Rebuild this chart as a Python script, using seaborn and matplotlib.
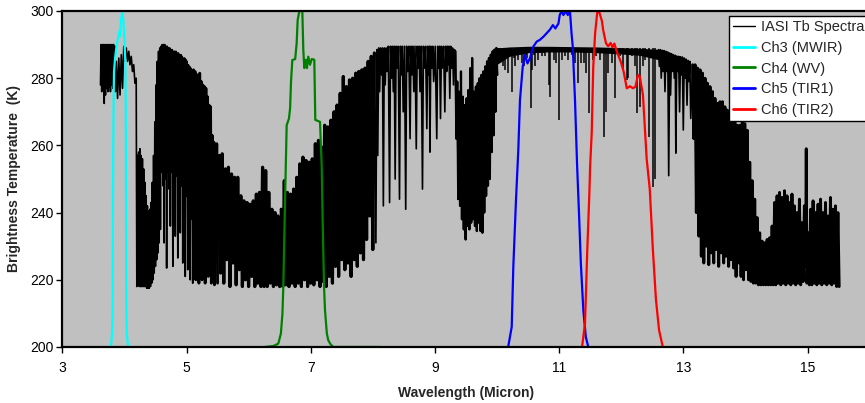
import matplotlib
matplotlib.use("Agg")
import matplotlib.pyplot as plt
from matplotlib.lines import Line2D
import numpy as np
import seaborn as sns

# ---------------------------------------------------------------
# IASI brightness-temperature spectrum (wavelength in micron, Tb in K)
# stored band by band as peak / trough samples
# ---------------------------------------------------------------
sw_wl = [3.615, 3.625, 3.635, 3.645, 3.655, 3.665, 3.675, 3.685, 3.695, 3.705,
         3.715, 3.725, 3.735, 3.745, 3.755, 3.765, 3.775, 3.785, 3.795, 3.805,
         3.815, 3.825, 3.835, 3.845, 3.855, 3.87, 3.89, 3.91, 3.93, 3.95,
         3.97, 3.99, 4.01, 4.03, 4.05, 4.07, 4.09, 4.11, 4.13, 4.15, 4.17, 4.19]
sw_tb = [278, 290, 276, 290, 278, 290, 272.5, 290, 275, 290,
         277, 290, 276, 290, 277.5, 290, 276, 290, 278, 290,
         277, 290, 279, 289.5, 276, 285, 274, 286, 275, 287,
         277, 289.5, 285, 289, 285, 288, 284, 286.5, 282, 284, 278.5, 280]

co2_43_wl = [4.20, 4.21, 4.22, 4.23, 4.24, 4.25, 4.26, 4.27, 4.28, 4.29,
             4.30, 4.31, 4.32, 4.33, 4.34, 4.35, 4.36, 4.37, 4.38, 4.39,
             4.40, 4.41, 4.42, 4.43, 4.44, 4.45, 4.46, 4.47, 4.48, 4.49,
             4.50, 4.51, 4.52, 4.53, 4.54, 4.55, 4.56, 4.57]
co2_43_tb = [218, 257, 219, 258, 218, 259, 218, 257, 218, 256,
             218, 253, 218, 249, 218, 245, 217.5, 242, 217.5, 240.5,
             217.5, 241, 218, 243, 219, 249, 220, 257, 222, 267,
             224, 278, 226, 285, 228, 288, 231, 289]

h2o_a_wl = [4.58, 4.59, 4.60, 4.61, 4.62, 4.63, 4.64, 4.65, 4.66, 4.67,
            4.68, 4.69, 4.70, 4.71, 4.72, 4.73, 4.74, 4.75, 4.76, 4.77,
            4.78, 4.79, 4.80, 4.81, 4.82, 4.83, 4.84, 4.85, 4.86, 4.87,
            4.88, 4.89, 4.90, 4.91, 4.92, 4.93, 4.94, 4.95, 4.96, 4.97,
            4.98, 4.99, 5.00, 5.01, 5.02, 5.03, 5.04, 5.05, 5.06, 5.07,
            5.08, 5.09, 5.10]
h2o_a_tb = [235, 289.5, 252, 290, 248, 290, 231, 290, 250, 289.5,
            223.5, 289.5, 252, 289, 247, 289, 236, 288.5, 252, 288.5,
            224, 288, 250, 288, 233, 288, 251, 287.5, 226.5, 287.5,
            249, 287, 234, 287, 248, 286.5, 225, 286, 247, 286,
            221, 285.5, 245, 285, 223, 284, 240, 283.5, 220, 283,
            238, 282.5, 219]

h2o_b_wl = [5.113, 5.125, 5.138, 5.150, 5.163, 5.175, 5.188, 5.200, 5.213, 5.225,
            5.238, 5.250, 5.263, 5.275, 5.288, 5.300, 5.313, 5.325, 5.338, 5.350,
            5.363, 5.375, 5.388, 5.400, 5.413, 5.425, 5.438, 5.450, 5.463, 5.475,
            5.488, 5.500]
h2o_b_tb = [282.5, 240, 282, 220, 281, 245, 281, 219, 281.5, 238,
            279, 220, 278, 248, 277.5, 219, 277, 236, 274.5, 221,
            272, 242, 271.5, 219, 263, 234, 261, 218.5, 260.5, 240,
            260.5, 219]

h2o_c_wl = [5.525, 5.55, 5.575, 5.60, 5.625, 5.65, 5.675, 5.70, 5.725, 5.75,
            5.775, 5.80, 5.825, 5.85, 5.875, 5.90, 5.925, 5.95, 5.975, 6.00,
            6.025, 6.05, 6.075, 6.10, 6.125, 6.15, 6.175, 6.20, 6.225, 6.25,
            6.275, 6.30, 6.325, 6.35, 6.375, 6.40, 6.425, 6.45, 6.475, 6.50]
h2o_c_tb = [257, 222, 257.5, 219, 253, 226, 253.5, 218, 251.5, 225,
            250.5, 218.5, 250.5, 223, 245, 218, 243.5, 220, 243, 218,
            242.5, 221, 243.5, 218, 245.5, 219, 246, 218, 253.5, 218,
            252.5, 218, 246, 219, 241, 218, 240, 218.5, 239, 218]

h2o_d_wl = [6.525, 6.55, 6.575, 6.60, 6.625, 6.65, 6.675, 6.70, 6.725, 6.75,
            6.775, 6.80, 6.825, 6.85, 6.875, 6.90, 6.925, 6.95, 6.975, 7.00,
            7.025, 7.05, 7.075, 7.10, 7.125, 7.15, 7.175, 7.20, 7.225, 7.25,
            7.275, 7.30, 7.325, 7.35, 7.375, 7.40, 7.425, 7.45, 7.475, 7.50,
            7.525, 7.55, 7.575, 7.60, 7.625, 7.65, 7.675, 7.70, 7.725, 7.75,
            7.775, 7.80, 7.825, 7.85, 7.875, 7.90, 7.925, 7.95, 7.975, 8.00,
            8.025]
h2o_d_tb = [241, 218, 249.5, 218.5, 246, 218, 245.5, 219, 247, 218,
            250.5, 219, 254.5, 218, 256.5, 220, 255.5, 218, 255, 219,
            256, 218.5, 260.5, 220, 261.5, 218, 259.5, 219.5, 266, 218,
            265.5, 221, 267.5, 219, 270, 224, 272, 221, 275.5, 226,
            280.5, 223, 277.5, 225, 279.5, 221, 280, 226, 281.5, 224,
            282, 228, 282.5, 226, 283, 232, 285, 239, 286.5, 229,
            287.5]

lw_wl = [8.05, 8.065, 8.08, 8.095, 8.11, 8.125, 8.14, 8.155, 8.17, 8.185,
         8.20, 8.215, 8.23, 8.25, 8.27, 8.285, 8.30, 8.315, 8.33, 8.345,
         8.36, 8.375, 8.39, 8.41, 8.43, 8.445, 8.46, 8.475, 8.49, 8.51,
         8.53, 8.545, 8.56, 8.58, 8.60, 8.615, 8.63, 8.645, 8.66, 8.68,
         8.70, 8.715, 8.73, 8.745, 8.76, 8.78, 8.80, 8.815, 8.83, 8.85,
         8.87, 8.885, 8.90, 8.91, 8.92, 8.935, 8.95, 8.965, 8.98, 9.005,
         9.03, 9.045, 9.06, 9.075, 9.09, 9.105, 9.12, 9.14, 9.16, 9.175,
         9.19, 9.20, 9.21, 9.225, 9.24, 9.255, 9.27, 9.285, 9.30, 9.315]
lw_tb = [231, 288.5, 257, 289, 276, 289, 281, 289, 242, 289,
         278, 289, 282, 289.5, 243, 289.5, 280, 289.5, 276, 289.5,
         250, 289.5, 283, 289.5, 244, 289.5, 281, 289.5, 270, 289.5,
         241, 289.5, 282, 289.5, 262, 289.5, 281, 289.5, 276, 289.5,
         259, 289.5, 283, 289.5, 276, 289.5, 247, 289.5, 283, 289.5,
         265, 289.5, 281, 289.5, 258, 289.5, 283, 289.5, 279, 289.5,
         262, 289.5, 283, 289.5, 268, 289.5, 283, 289.5, 270, 289.5,
         282, 289.5, 284, 289.5, 274, 289.5, 283, 289, 278, 288.5]

o3_wl = [9.33, 9.345, 9.36, 9.375, 9.39, 9.405, 9.42, 9.435, 9.45, 9.465,
         9.48, 9.495, 9.51, 9.525, 9.54, 9.555, 9.57, 9.585, 9.60, 9.615,
         9.63, 9.645, 9.66, 9.675, 9.69, 9.705, 9.72, 9.735, 9.75, 9.765,
         9.78, 9.795, 9.81, 9.825, 9.84, 9.855, 9.87, 9.885, 9.90, 9.915,
         9.93, 9.945, 9.96, 9.975, 9.99, 10.005]
o3_tb = [288, 262, 279, 244, 276, 242, 282, 238, 274.5, 235,
         272, 232, 274, 236, 276.5, 235, 283, 237, 286, 238,
         276, 236, 277.5, 234.5, 278.5, 237, 280, 234.5, 281, 234,
         282, 240, 283.5, 245, 285, 248, 286, 250, 287, 258,
         288, 263, 288.5, 270, 289, 281]

# atmospheric window: continuum band and individual absorption lines
window_wl = [9.99, 10.2, 10.5, 10.8, 11.2, 11.6, 12.0, 12.3, 12.6]
window_top = [289.0, 289.3, 289.5, 289.5, 289.4, 289.3, 289.1, 288.9, 288.6]
window_base = [284.0, 286.5, 287.6, 287.8, 287.8, 287.6, 287.2, 286.8, 285.5]
window_line_top = 289.0
window_line_wl = [10.02, 10.05, 10.08, 10.10, 10.13, 10.16, 10.18, 10.21, 10.245, 10.27,
                  10.29, 10.32, 10.34, 10.37, 10.40, 10.43, 10.46, 10.48, 10.51, 10.54,
                  10.57, 10.59, 10.61, 10.64, 10.66, 10.69, 10.72, 10.75, 10.77, 10.80,
                  10.83, 10.85, 10.88, 10.91, 10.95, 10.98, 11.00, 11.02, 11.04, 11.07,
                  11.09, 11.12, 11.15, 11.18, 11.21, 11.26, 11.31, 11.36, 11.40, 11.43,
                  11.48, 11.55, 11.60, 11.66, 11.73, 11.75, 11.78, 11.85, 11.90, 11.98,
                  12.03, 12.09, 12.11, 12.17, 12.22, 12.26, 12.30, 12.35, 12.38, 12.45,
                  12.52, 12.55]
window_line_min = [286, 284.4, 287, 283.5, 282.5, 286, 281.5, 286.5, 276, 286,
                   283.5, 287, 285.5, 287, 284.5, 283.5, 287, 286, 287.5, 271,
                   282.4, 287, 283.5, 287.5, 285.5, 287.5, 286.5, 287.5, 286.5, 288,
                   278, 274.5, 288, 285.5, 284.4, 288, 267.6, 288, 285.5, 288,
                   286.5, 288.5, 285.5, 288, 287, 284.4, 278.5, 284.4, 284.5, 281.4,
                   269.6, 285.5, 286.5, 285.5, 262.6, 270, 281.5, 284.4, 274, 286.5,
                   282.5, 279.5, 280, 286.5, 283.5, 269.6, 271.5, 283.5, 285.5, 262.6,
                   247.7, 250]

comb_wl = [12.60, 12.615, 12.63, 12.645, 12.66, 12.675, 12.69, 12.705, 12.72, 12.735,
           12.75, 12.765, 12.78, 12.795, 12.81, 12.825, 12.84, 12.855, 12.87, 12.88,
           12.895, 12.91, 12.925, 12.94, 12.955, 12.97, 12.985, 13.00, 13.015, 13.03,
           13.045, 13.06, 13.075, 13.09, 13.105, 13.12]
comb_tb = [288.5, 283.5, 288.5, 280, 288.3, 282, 288.2, 276, 288, 282,
           287.8, 251, 287.5, 275, 287.3, 282, 287, 280, 286.8, 257.7,
           286.6, 282, 286.5, 270, 286.4, 281, 286.3, 264.6, 286, 280,
           285.7, 272, 285.3, 279, 285, 268]

co2_15_wl = [13.15, 13.17, 13.19, 13.21, 13.23, 13.25, 13.27, 13.29, 13.31, 13.33,
             13.35, 13.37, 13.39, 13.41, 13.43, 13.45, 13.47, 13.49, 13.51, 13.53,
             13.55, 13.57, 13.59, 13.61, 13.63, 13.65, 13.67, 13.69, 13.71, 13.73,
             13.75, 13.77, 13.79, 13.81, 13.83, 13.85, 13.87, 13.89, 13.91, 13.93,
             13.95, 13.97, 13.99, 14.01, 14.03, 14.05, 14.07, 14.09, 14.11, 14.13,
             14.15, 14.17, 14.19, 14.21, 14.23, 14.25, 14.27, 14.29, 14.31, 14.33,
             14.35, 14.37, 14.39, 14.41, 14.43, 14.45, 14.47, 14.49, 14.51, 14.53,
             14.55, 14.57, 14.59, 14.61, 14.63, 14.65, 14.67, 14.69, 14.71, 14.73,
             14.75, 14.77, 14.79, 14.81, 14.83, 14.85, 14.87, 14.89, 14.91, 14.93,
             14.95, 14.97, 14.98, 14.99, 15.01, 15.03, 15.05, 15.07, 15.09, 15.11,
             15.13, 15.15, 15.17, 15.19, 15.21, 15.23, 15.25, 15.27, 15.29, 15.31,
             15.33, 15.35, 15.37, 15.39, 15.41, 15.43, 15.45, 15.47, 15.49, 15.51]
co2_15_tb = [284, 262, 284, 240, 283, 233, 282.5, 227, 281.5, 225,
             280, 230, 278.5, 224.5, 277.5, 228, 276, 225, 274, 229,
             272.5, 224, 273, 228, 273, 225, 271.5, 227, 270.5, 224,
             269, 226, 268, 223.5, 267, 221, 266, 225, 266, 221,
             267, 220, 266.5, 223, 264.5, 220, 255, 219.5, 249.5, 219,
             244, 219, 238.5, 218.5, 234, 218.5, 231.5, 218.5, 231, 218.5,
             232, 218.5, 232.5, 218.5, 236, 218.5, 243, 218.5, 245, 219,
             246, 218.5, 244.5, 219, 246.5, 218.5, 245, 219, 243, 218.5,
             245.5, 219, 242, 218.5, 240, 219, 244, 218.5, 237, 219.5,
             242, 224, 259, 219, 234, 218.5, 241, 218.5, 243.5, 219,
             240, 218.5, 242.5, 219, 244, 218.5, 240, 219, 243, 218.5,
             239, 219, 244.5, 218.5, 241, 219, 242, 218, 240, 218]

# ---------------------------------------------------------------
# imager channel spectral response, scaled onto the Tb axis
# ---------------------------------------------------------------
ch3_wl = [3.784, 3.80, 3.81, 3.815, 3.82, 3.827, 3.833, 3.85, 3.876, 3.90,
          3.918, 3.93, 3.945, 3.966, 3.983, 3.999, 4.015, 4.022, 4.026, 4.030,
          4.037, 4.05, 4.063]
ch3_tb = [200, 204, 210, 240, 258, 275, 282, 286, 290, 292,
          294, 292.5, 297, 300, 297, 292, 285, 270, 240, 214,
          205, 201.5, 200]

ch4_wl = [6.26, 6.40, 6.478, 6.52, 6.545, 6.559, 6.585, 6.613, 6.65, 6.668,
          6.683, 6.704, 6.75, 6.774, 6.79, 6.817, 6.865, 6.881, 6.897, 6.924,
          6.94, 6.961, 6.989, 7.016, 7.058, 7.074, 7.15, 7.177, 7.195, 7.215,
          7.23, 7.26, 7.283, 7.32, 7.364, 7.50, 8.13]
ch4_tb = [200, 200.3, 201, 204, 210, 218, 242, 266, 268, 271,
          279, 285.4, 285.7, 290.4, 297.3, 300, 300, 288.4, 283, 285.5,
          283, 286.4, 284, 285.7, 285.5, 267.6, 267, 254, 235, 218,
          211, 204, 202, 200.8, 200, 200, 200]

ch5_wl = [10.18, 10.237, 10.263, 10.306, 10.343, 10.37, 10.414, 10.45, 10.49, 10.53,
          10.585, 10.64, 10.69, 10.75, 10.80, 10.85, 10.90, 10.94, 10.99, 11.01,
          11.04, 11.07, 11.11, 11.14, 11.175, 11.20, 11.22, 11.256, 11.29, 11.32,
          11.35, 11.39, 11.43, 11.47]
ch5_tb = [200, 206, 224, 243.8, 258.6, 273.5, 283.4, 286.9, 284.4, 285.9,
          289.4, 290.9, 291.4, 292.4, 293.4, 294.4, 295.8, 294.8, 296.3, 298.8,
          300, 298.8, 300, 298.8, 300, 293.4, 289.4, 273.5, 254, 240,
          225, 211, 203, 200]

ch6_wl = [11.37, 11.417, 11.454, 11.486, 11.50, 11.525, 11.55, 11.58, 11.615, 11.65,
          11.69, 11.71, 11.755, 11.79, 11.83, 11.86, 11.89, 11.93, 11.97, 12.0,
          12.04, 12.09, 12.14, 12.19, 12.23, 12.27, 12.30, 12.35, 12.38, 12.41,
          12.46, 12.51, 12.56, 12.61, 12.67]
ch6_tb = [200, 207, 229, 245, 254, 263.6, 283.4, 293.4, 299.7, 299.5,
          297, 294.3, 290.4, 289.5, 290.5, 289.2, 290.3, 287.9, 286, 284.5,
          281.9, 277, 277.6, 277, 277.5, 281, 280.5, 275, 265.6, 256,
          247, 229, 214, 205, 200]

legend_labels = ["IASI Tb Spectra", "Ch3 (MWIR)", "Ch4 (WV)", "Ch5 (TIR1)", "Ch6 (TIR2)"]
channel_colors = ["#00FFFF", "#008000", "#0000FF", "#FF0000"]

x_ticks = [3, 5, 7, 9, 11, 13, 15]
y_ticks = [200, 220, 240, 260, 280, 300]

# ---------------------------------------------------------------
sns.set_style("ticks")
plt.rcParams["font.family"] = ["Liberation Sans", "DejaVu Sans"]

fig = plt.figure(figsize=(8.65, 4.03), dpi=100)
ax = fig.add_axes([62.3 / 865, 56 / 403, (869.6 - 62.3) / 865, 336 / 403])
ax.set_facecolor("#C0C0C0")


def trace(wl, tb, lw, color="black"):
    sns.lineplot(x=wl, y=tb, sort=False, estimator=None, color=color, lw=lw, ax=ax)


# continuous spectrum trace, then the densely packed bands drawn heavier
main_wl = sw_wl + co2_43_wl + h2o_a_wl + h2o_b_wl + h2o_c_wl + h2o_d_wl + lw_wl + o3_wl
main_tb = sw_tb + co2_43_tb + h2o_a_tb + h2o_b_tb + h2o_c_tb + h2o_d_tb + lw_tb + o3_tb
trace(main_wl, main_tb, 1.2)
trace(h2o_b_wl, h2o_b_tb, 2.0)
trace(h2o_c_wl, h2o_c_tb, 2.3)
trace(h2o_d_wl, h2o_d_tb, 2.3)
trace(o3_wl, o3_tb, 1.6)

ax.fill_between(window_wl, window_base, window_top, color="black", lw=0)
ax.vlines(window_line_wl, window_line_min, window_line_top, color="black", lw=1.1)

trace(comb_wl + co2_15_wl, comb_tb + co2_15_tb, 1.2)
trace(co2_15_wl, co2_15_tb, 2.1)

for wl, tb, col in zip([ch3_wl, ch4_wl, ch5_wl, ch6_wl],
                       [ch3_tb, ch4_tb, ch5_tb, ch6_tb], channel_colors):
    trace(wl, tb, 1.6, color=col)

ax.set_xlim(3, 16)
ax.set_ylim(200, 300)
ax.set_xticks(x_ticks)
ax.set_yticks(y_ticks)
ax.tick_params(axis="both", direction="out", length=4, width=1, labelsize=10,
               colors="black")
ax.tick_params(axis="x", pad=6)
ax.tick_params(axis="y", pad=2)

for side in ["left", "bottom", "top", "right"]:
    ax.spines[side].set_visible(True)
    ax.spines[side].set_color("black")
    ax.spines[side].set_linewidth(1.6)

ax.set_xlabel("Wavelength (Micron)", fontsize=10, fontweight="bold", labelpad=8)
ax.set_ylabel("Brightness Temperature  (K)", fontsize=10, fontweight="bold", labelpad=7)

handles = [Line2D([0], [0], color="black", lw=1.0)] + \
          [Line2D([0], [0], color=c, lw=2.0) for c in channel_colors]
leg = ax.legend(handles, legend_labels, loc="upper left",
                bbox_to_anchor=(729 / 865, 1 - 16 / 403), bbox_transform=fig.transFigure,
                frameon=True, fancybox=False, framealpha=1, edgecolor="black",
                fontsize=10.5, handlelength=1.5, handletextpad=0.4, borderpad=0.3,
                labelspacing=0.45, borderaxespad=0)
leg.get_frame().set_linewidth(1.0)

fig.savefig("out.png", dpi=100, facecolor="white")
